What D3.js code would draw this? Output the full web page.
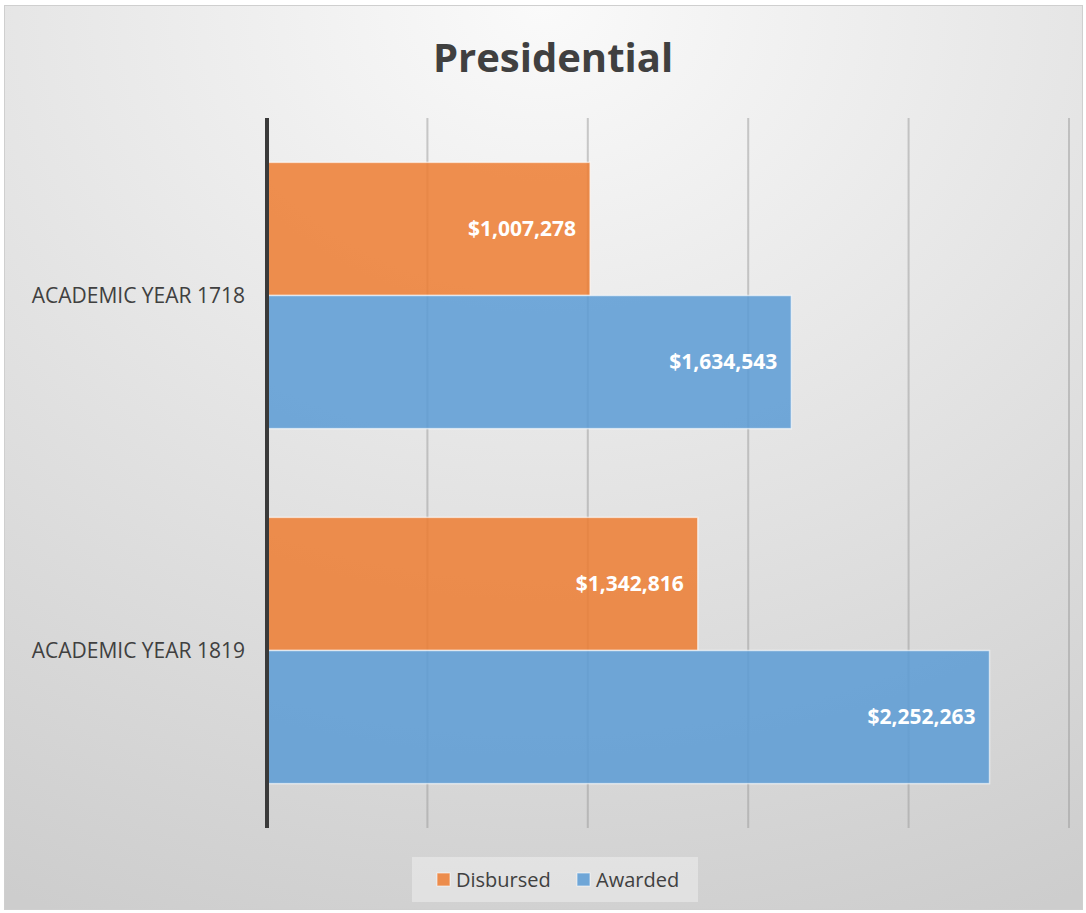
<!DOCTYPE html>
<html>
<head>
<meta charset="utf-8">
<script src="https://cdn.jsdelivr.net/npm/d3@7/dist/d3.min.js"></script>
<style>
  body { margin: 0; background: #fff; }
  text { font-family: "Open Sans", "Noto Sans", sans-serif; }
</style>
</head>
<body>
<svg></svg>
<script>
// data
var categories = ["ACADEMIC YEAR 1718", "ACADEMIC YEAR 1819"];
var seriesNames = ["Disbursed", "Awarded"];
var disbursed = [1007278, 1342816];
var awarded = [1634543, 2252263];
var xTicks = [0, 500000, 1000000, 1500000, 2000000, 2500000];
var colors = ["#ED7D31", "#5B9BD5"];

var svgWidth = 1086, svgHeight = 913;
var svg = d3.select("svg").attr("width", svgWidth).attr("height", svgHeight);

// background gradient
var defs = svg.append("defs");
var grad = defs.append("radialGradient").attr("id", "bg")
    .attr("cx", "50%").attr("cy", "0%").attr("r", "110%");
grad.append("stop").attr("offset", "0%").attr("stop-color", "#fafafa");
grad.append("stop").attr("offset", "100%").attr("stop-color", "#cdcdcd");

svg.append("rect").attr("x", 4.5).attr("y", 5.5).attr("width", 1078).attr("height", 904)
    .attr("fill", "url(#bg)").attr("stroke", "#cfcfcf").attr("stroke-width", 1);

svg.append("text")
    .attr("x", 553).attr("y", 72)
    .attr("text-anchor", "middle")
    .attr("font-size", 40).attr("font-weight", "bold")
    .attr("fill", "#404040")
    .text("Presidential");

var x = d3.scaleLinear().domain([0, 2500000]).range([267, 1069]);
var y = d3.scaleBand().domain(categories).range([118, 828]).paddingInner(0.25).paddingOuter(0.125);
var ySub = d3.scaleBand().domain(seriesNames).range([0, y.bandwidth()]);

// gridlines
svg.append("g").selectAll("line").data(xTicks.slice(1)).enter().append("line")
    .attr("x1", function(d){ return x(d); }).attr("x2", function(d){ return x(d); })
    .attr("y1", 118).attr("y2", 828)
    .attr("stroke", "#9a9a9a").attr("stroke-opacity", 0.5).attr("stroke-width", 2);

var rows = categories.map(function(c, i){
    return [{cat: c, s: 0, v: disbursed[i]}, {cat: c, s: 1, v: awarded[i]}];
});
var flat = [].concat.apply([], rows);

svg.append("g").selectAll("rect").data(flat).enter().append("rect")
    .attr("x", x(0))
    .attr("y", function(d){ return y(d.cat) + ySub(seriesNames[d.s]); })
    .attr("width", function(d){ return x(d.v) - x(0); })
    .attr("height", ySub.bandwidth())
    .attr("fill", function(d){ return colors[d.s]; })
    .attr("fill-opacity", 0.85)
    .attr("stroke", "#ffffff").attr("stroke-opacity", 0.6).attr("stroke-width", 1.5);

var fmt = d3.format("$,");
svg.append("g").selectAll("text").data(flat).enter().append("text")
    .attr("x", function(d){ return x(d.v) - 14; })
    .attr("y", function(d){ return y(d.cat) + ySub(seriesNames[d.s]) + ySub.bandwidth() / 2; })
    .attr("dy", "0.35em")
    .attr("text-anchor", "end")
    .attr("font-size", 21).attr("font-weight", "bold")
    .attr("fill", "#ffffff")
    .text(function(d){ return fmt(d.v); });

// axis line
svg.append("line").attr("x1", 267).attr("x2", 267).attr("y1", 118).attr("y2", 828)
    .attr("stroke", "#3a3a3a").attr("stroke-width", 4);

// category labels
svg.append("g").selectAll("text").data(categories).enter().append("text")
    .attr("x", 245)
    .attr("y", function(d){ return y(d) + y.bandwidth() / 2; })
    .attr("dy", "0.35em")
    .attr("text-anchor", "end")
    .attr("font-size", 21)
    .attr("fill", "#404040")
    .text(function(d){ return d; });

// legend
var lg = svg.append("g");
lg.append("rect").attr("x", 412).attr("y", 857).attr("width", 286).attr("height", 45)
    .attr("fill", "#ffffff").attr("fill-opacity", 0.35);
var legendX = [437, 577];
seriesNames.forEach(function(s, i){
    lg.append("rect").attr("x", legendX[i]).attr("y", 873).attr("width", 13).attr("height", 13)
        .attr("fill", colors[i]).attr("fill-opacity", 0.85)
        .attr("stroke", "#ffffff").attr("stroke-opacity", 0.6);
    lg.append("text").attr("x", legendX[i] + 19).attr("y", 880).attr("dy", "0.35em")
        .attr("font-size", 20).attr("fill", "#404040").text(s);
});
</script>
</body>
</html>
